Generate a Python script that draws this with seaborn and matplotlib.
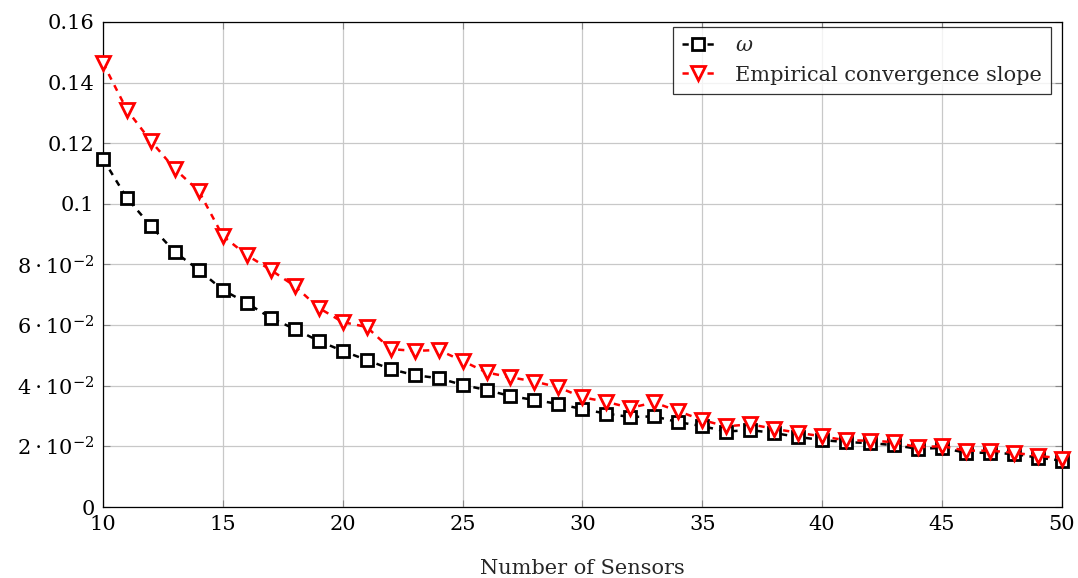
import matplotlib
matplotlib.use("Agg")
import matplotlib.pyplot as plt
import seaborn as sns
import pandas as pd

sensors = list(range(10, 51))
omega = [0.1148, 0.1019, 0.0927, 0.0841, 0.0782, 0.0716, 0.0673, 0.0624, 0.0587, 0.0548,
         0.0515, 0.0485, 0.0455, 0.0435, 0.0425, 0.0403, 0.0386, 0.0366, 0.0353, 0.0340,
         0.0323, 0.0308, 0.0297, 0.0299, 0.0280, 0.0267, 0.0249, 0.0254, 0.0244, 0.0231,
         0.0221, 0.0214, 0.0211, 0.0204, 0.0192, 0.0195, 0.0179, 0.0179, 0.0175, 0.0163, 0.0153]
empirical = [0.1465, 0.1310, 0.1207, 0.1115, 0.1042, 0.0894, 0.0831, 0.0782, 0.0729, 0.0657,
             0.0610, 0.0594, 0.0521, 0.0515, 0.0518, 0.0482, 0.0444, 0.0428, 0.0414, 0.0395,
             0.0362, 0.0347, 0.0327, 0.0345, 0.0316, 0.0287, 0.0266, 0.0273, 0.0258, 0.0245,
             0.0233, 0.0220, 0.0219, 0.0214, 0.0197, 0.0201, 0.0186, 0.0186, 0.0179, 0.0169, 0.0160]

series_names = [r"$\omega$", "Empirical convergence slope"]
x_ticks = [10, 15, 20, 25, 30, 35, 40, 45, 50]
y_ticks = [0, 0.02, 0.04, 0.06, 0.08, 0.10, 0.12, 0.14, 0.16]
y_tick_labels = ["0", r"$2\cdot10^{-2}$", r"$4\cdot10^{-2}$", r"$6\cdot10^{-2}$",
                 r"$8\cdot10^{-2}$", "0.1", "0.12", "0.14", "0.16"]
x_label = "Number of Sensors"

sns.set_theme(style="white")
plt.rcParams["font.family"] = ["DejaVu Serif"]
plt.rcParams["mathtext.fontset"] = "dejavuserif"
plt.rcParams["font.size"] = 15

df = pd.DataFrame({
    "sensors": sensors * 2,
    "value": omega + empirical,
    "series": [series_names[0]] * len(sensors) + [series_names[1]] * len(sensors),
})

fig = plt.figure(figsize=(10.78, 5.78), dpi=100)
ax = fig.add_axes([0.0955, 0.1228, 0.8895, 0.8392])

styles = {
    series_names[0]: dict(color="black", marker="s", ms=8.5),
    series_names[1]: dict(color="red", marker="v", ms=9.5),
}
for name in series_names:
    st = styles[name]
    sns.lineplot(data=df[df["series"] == name], x="sensors", y="value", ax=ax,
                 color=st["color"], marker=st["marker"], markersize=st["ms"],
                 markerfacecolor="white", markeredgecolor=st["color"], markeredgewidth=2,
                 linewidth=1.8, label=name, zorder=3, clip_on=False)
for line in ax.get_lines():
    line.set_dashes((2.5, 2.5))

ax.set_xlim(10, 50)
ax.set_ylim(0, 0.16)
ax.set_xticks(x_ticks)
ax.set_xticklabels([str(t) for t in x_ticks], fontsize=15)
ax.set_yticks(y_ticks)
ax.set_yticklabels(y_tick_labels, fontsize=15)
ax.set_xlabel(x_label, fontsize=15, labelpad=18)
ax.set_ylabel("")
ax.grid(True, color="#c8c8c8", linewidth=0.9)
ax.set_axisbelow(True)
ax.tick_params(direction="in", length=5, width=0.8, color="#888888",
               top=True, right=True, bottom=True, left=True, pad=6, labelcolor="black")
for sp in ax.spines.values():
    sp.set_color("black")
    sp.set_linewidth(0.9)

leg = ax.legend(loc="upper right", bbox_to_anchor=(0.9885, 0.9897), borderaxespad=0,
                fontsize=15, frameon=True, fancybox=False, edgecolor="black",
                handlelength=1.5, labelspacing=0.5, handletextpad=1.0, borderpad=0.45)
leg.get_frame().set_linewidth(0.9)
leg.set_zorder(5)

fig.savefig("out.png", dpi=100)
